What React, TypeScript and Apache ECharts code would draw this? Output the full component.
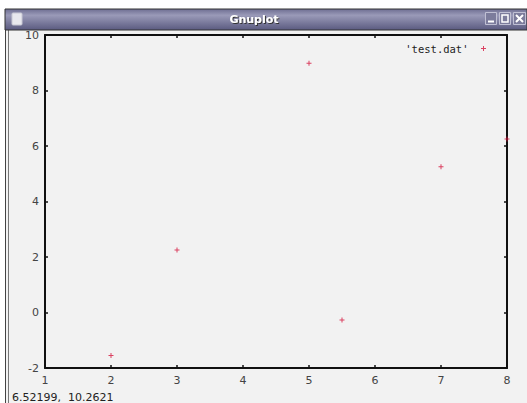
import React, { useEffect, useRef } from "react";
import * as echarts from "echarts";

const seriesName = "'test.dat'";
const xValues = [2, 3, 5, 5.5, 7, 8];
const yValues = [-1.55, 2.25, 8.98, -0.27, 5.25, 6.25];
const xRange = { min: 1, max: 8, interval: 1 };
const yRange = { min: -2, max: 10, interval: 2 };
const windowTitle = "Gnuplot";
const statusText = "6.52199,  10.2621";

const W = 527;
const H = 403;
const PLUS = "path://M0,2.4L6,2.4L6,3.6L0,3.6Z M2.4,0L3.6,0L3.6,6L2.4,6Z";
const RED = "#d4143c";
const FRAME = "#111";

export default function App() {
  const ref = useRef<HTMLDivElement>(null);
  useEffect(() => {
    document.body.style.margin = "0";
    if (!ref.current) return;
    const chart = echarts.init(ref.current, null, { renderer: "svg", width: W, height: H });

    const axisLine = { show: true, onZero: false, lineStyle: { color: FRAME, width: 2 } };
    const axisTick = { show: true, inside: true, length: 3, lineStyle: { color: FRAME, width: 1.5 } };
    const label = { color: "#444", fontSize: 11, fontFamily: "DejaVu Sans" };

    const data = xValues.map((x, i) => [x, yValues[i]]);

    chart.setOption({
      animation: false,
      backgroundColor: "#f2f2f2",
      grid: { left: 45, right: 20, top: 35, bottom: 35, containLabel: false },
      legend: {
        right: 36,
        top: 38,
        align: "right",
        itemWidth: 20,
        itemHeight: 5,
        icon: PLUS,
        data: [seriesName],
        textStyle: { color: "#222", fontSize: 10.5, fontFamily: "DejaVu Sans Mono" },
      },
      xAxis: [
        {
          type: "value", position: "bottom", ...xRange,
          axisLine, axisTick,
          axisLabel: { ...label, margin: 7 },
          splitLine: { show: false },
        },
        {
          type: "value", position: "top", ...xRange,
          axisLine, axisTick,
          axisLabel: { show: false },
          splitLine: { show: false },
        },
      ],
      yAxis: [
        {
          type: "value", position: "left", ...yRange,
          axisLine, axisTick,
          axisLabel: { ...label, margin: 6 },
          splitLine: { show: false },
        },
        {
          type: "value", position: "right", ...yRange,
          axisLine, axisTick,
          axisLabel: { show: false },
          splitLine: { show: false },
        },
      ],
      series: [
        {
          name: seriesName,
          type: "scatter",
          xAxisIndex: 0,
          yAxisIndex: 0,
          clip: false,
          symbol: PLUS,
          symbolSize: 5,
          itemStyle: { color: RED },
          data,
        },
      ],
      graphic: [
        { type: "rect", shape: { x: 0, y: 0, width: W, height: 9 }, style: { fill: "#fff" }, silent: true },
        { type: "rect", shape: { x: 0, y: 0, width: 5, height: H }, style: { fill: "#fff" }, silent: true },
        { type: "line", shape: { x1: 5.5, y1: 9, x2: 5.5, y2: H }, style: { stroke: "#444", lineWidth: 1 }, silent: true },
        { type: "line", shape: { x1: 8.5, y1: 30, x2: 8.5, y2: H }, style: { stroke: "#777", lineWidth: 1 }, silent: true },
        {
          type: "rect",
          shape: { x: 5, y: 9, width: W - 5, height: 21 },
          style: {
            fill: new echarts.graphic.LinearGradient(0, 0, 0, 1, [
              { offset: 0, color: "#6e6e92" },
              { offset: 0.3, color: "#9a9ab8" },
              { offset: 1, color: "#5a5a80" },
            ]),
            stroke: "#333",
            lineWidth: 1,
          },
          silent: true,
        },
        {
          type: "rect",
          shape: { x: 12, y: 13, width: 10, height: 12, r: 1 },
          style: { fill: "#e8e8ee", stroke: "#c8c8d4", lineWidth: 1 },
          silent: true,
        },
        {
          type: "text",
          x: 254, y: 19,
          style: {
            text: windowTitle,
            fill: "#fff",
            font: "bold 11px 'DejaVu Sans'",
            align: "center",
            verticalAlign: "middle",
            textShadowColor: "#333",
            textShadowBlur: 1,
            textShadowOffsetX: 1,
            textShadowOffsetY: 1,
          },
          silent: true,
        },
        { type: "rect", shape: { x: 485.5, y: 12.5, width: 11, height: 12 }, style: { fill: "#7c7c9c", stroke: "#c0c0d4", lineWidth: 1 }, silent: true },
        { type: "line", shape: { x1: 488, y1: 21.5, x2: 494, y2: 21.5 }, style: { stroke: "#fff", lineWidth: 2 }, silent: true },
        { type: "rect", shape: { x: 499.5, y: 12.5, width: 11, height: 12 }, style: { fill: "#7c7c9c", stroke: "#c0c0d4", lineWidth: 1 }, silent: true },
        { type: "rect", shape: { x: 502, y: 15, width: 6, height: 7 }, style: { fill: "none", stroke: "#fff", lineWidth: 1.5 }, silent: true },
        { type: "rect", shape: { x: 513.5, y: 12.5, width: 12, height: 12 }, style: { fill: "#7c7c9c", stroke: "#c0c0d4", lineWidth: 1 }, silent: true },
        { type: "line", shape: { x1: 516, y1: 15, x2: 523, y2: 22 }, style: { stroke: "#fff", lineWidth: 2 }, silent: true },
        { type: "line", shape: { x1: 523, y1: 15, x2: 516, y2: 22 }, style: { stroke: "#fff", lineWidth: 2 }, silent: true },
        {
          type: "text",
          x: 12, y: 397,
          style: {
            text: statusText,
            fill: "#222",
            font: "11px 'DejaVu Sans'",
            align: "left",
            verticalAlign: "middle",
          },
          silent: true,
        },
      ],
    });
    return () => chart.dispose();
  }, []);
  return (
    <div
      ref={ref}
      style={{ position: "absolute", left: 0, top: 0, width: W, height: H }}
    />
  );
}
